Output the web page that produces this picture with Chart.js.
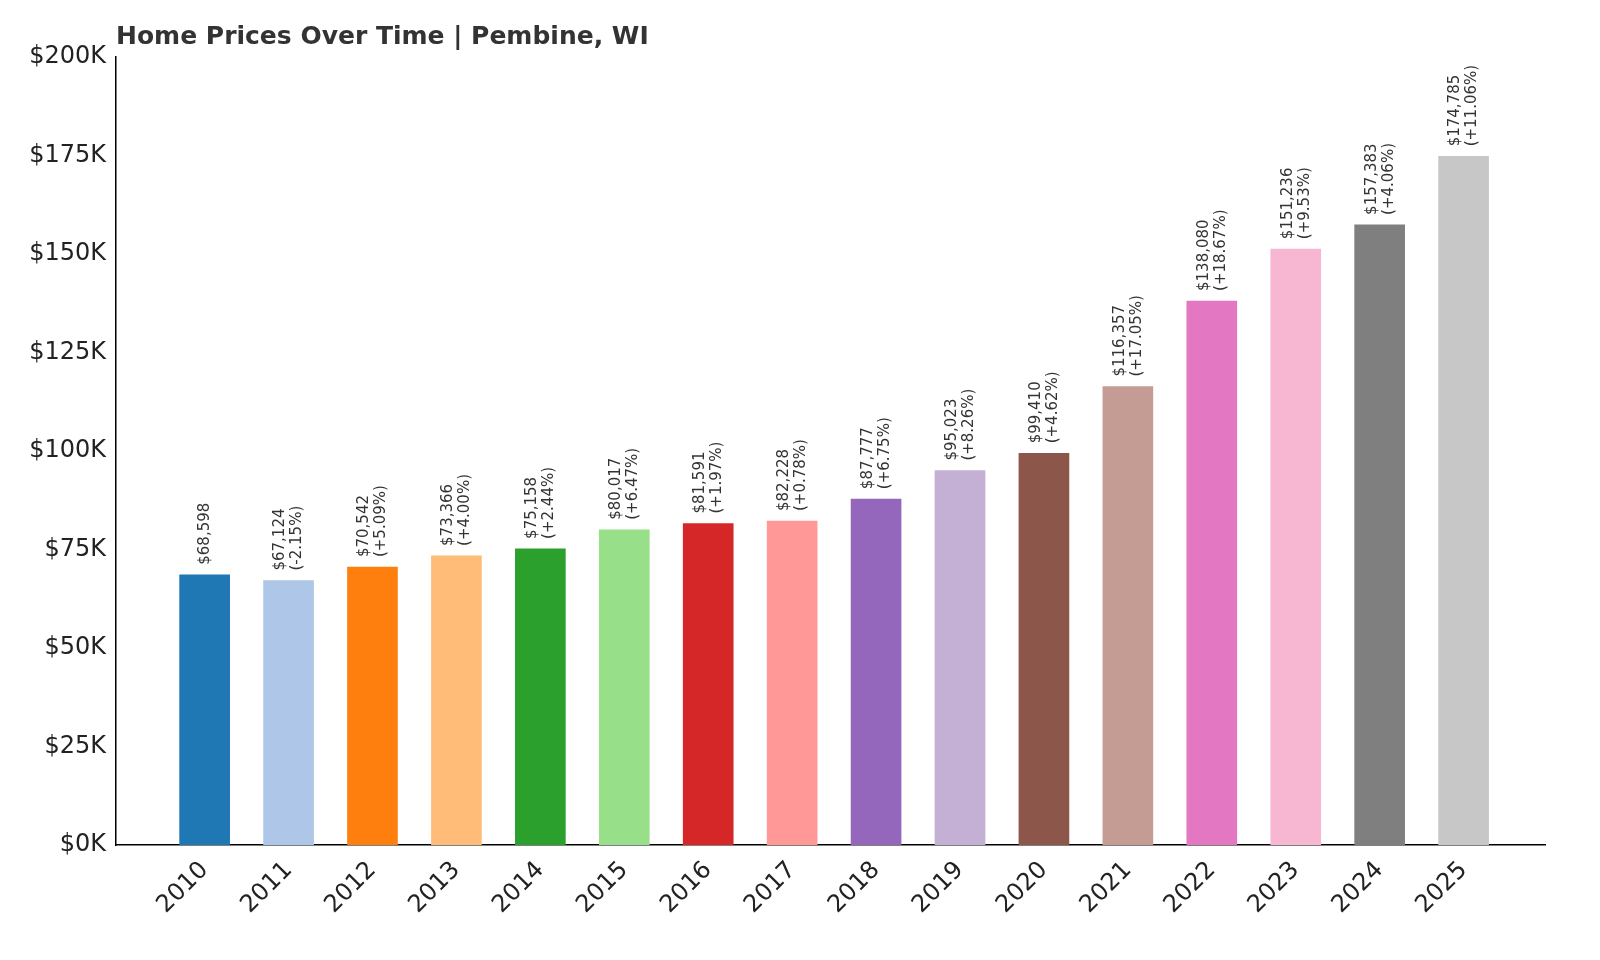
<!doctype html>
<html>
<head>
<meta charset="utf-8">
<script src="https://cdn.jsdelivr.net/npm/chart.js@4"></script>
<style>
  html, body { margin: 0; background: #fff; overflow: hidden; }
  #wrap { width: 1600px; height: 960px; position: relative; }
</style>
</head>
<body>
<div id="wrap"><canvas id="c" width="1600" height="960"></canvas></div>
<script>
const years = ['2010','2011','2012','2013','2014','2015','2016','2017','2018','2019','2020','2021','2022','2023','2024','2025'];
const prices = [68598, 67124, 70542, 73366, 75158, 80017, 81591, 82228, 87777, 95023, 99410, 116357, 138080, 151236, 157383, 174785];
const changes = [null, '-2.15%', '+5.09%', '+4.00%', '+2.44%', '+6.47%', '+1.97%', '+0.78%', '+6.75%', '+8.26%', '+4.62%', '+17.05%', '+18.67%', '+9.53%', '+4.06%', '+11.06%'];
const colors = ['#1f77b4','#aec7e8','#ff7f0e','#ffbb78','#2ca02c','#98df8a','#d62728','#ff9896','#9467bd','#c5b0d5','#8c564b','#c49c94','#e377c2','#f7b6d2','#7f7f7f','#c7c7c7'];
const yTicks = [0, 25000, 50000, 75000, 100000, 125000, 150000, 175000, 200000];

// подписи над столбиками + заголовок
const labelsPlugin = {
  id: 'labels',
  afterDatasetsDraw(chart) {
    const ctx = chart.ctx;
    const meta = chart.getDatasetMeta(0);
    ctx.save();
    ctx.fillStyle = '#333';
    ctx.font = '15px "DejaVu Sans"';
    ctx.textBaseline = 'middle';
    ctx.textAlign = 'left';
    meta.data.forEach((bar, i) => {
      const top = bar.y - 10;
      const money = '$' + prices[i].toLocaleString('en-US');
      ctx.save();
      ctx.translate(bar.x, top);
      ctx.rotate(-Math.PI / 2);
      if (changes[i] !== null) {
        ctx.fillText(money, 0, -8);
        ctx.fillText('(' + changes[i] + ')', 0, 9);
      } else {
        ctx.fillText(money, 0, 0);
      }
      ctx.restore();
    });
    ctx.font = 'bold 25px "DejaVu Sans"';
    ctx.textBaseline = 'alphabetic';
    ctx.fillText('Home Prices Over Time | Pembine, WI', 116, 44);
    ctx.restore();
  }
};

new Chart(document.getElementById('c'), {
  type: 'bar',
  data: {
    datasets: [{
      data: prices.map((p, i) => ({ x: i, y: p })),
      backgroundColor: colors,
      barThickness: 50,
    }]
  },
  options: {
    responsive: false,
    animation: false,
    layout: { padding: { top: 57, right: 55, left: 0, bottom: 0 } },
    plugins: { legend: { display: false }, tooltip: { enabled: false } },
    scales: {
      x: {
        type: 'linear',
        offset: false,
        min: -1.056,
        max: 15.97,
        afterBuildTicks: (s) => { s.ticks = years.map((_, i) => ({ value: i })); },
        afterFit: (s) => { s.height = 115; },
        ticks: {
          callback: (v) => years[v],
          maxRotation: 45, minRotation: 45,
          color: '#222',
          font: { size: 24, family: 'DejaVu Sans' },
          padding: 4,
        },
        grid: { display: false, drawTicks: true, tickLength: 7, tickColor: '#000' },
        border: { color: '#000', width: 1.5 },
      },
      y: {
        min: 0,
        max: 200000,
        afterBuildTicks: (s) => { s.ticks = yTicks.map(v => ({ value: v })); },
        afterFit: (s) => { s.width = 116; },
        ticks: {
          callback: (v) => '$' + (v / 1000) + 'K',
          color: '#222',
          font: { size: 24, family: 'DejaVu Sans' },
          padding: 4,
        },
        grid: { display: false, drawTicks: true, tickLength: 6, tickColor: '#000' },
        border: { color: '#000', width: 1.5 },
      }
    }
  },
  plugins: [labelsPlugin]
});
</script>
</body>
</html>
